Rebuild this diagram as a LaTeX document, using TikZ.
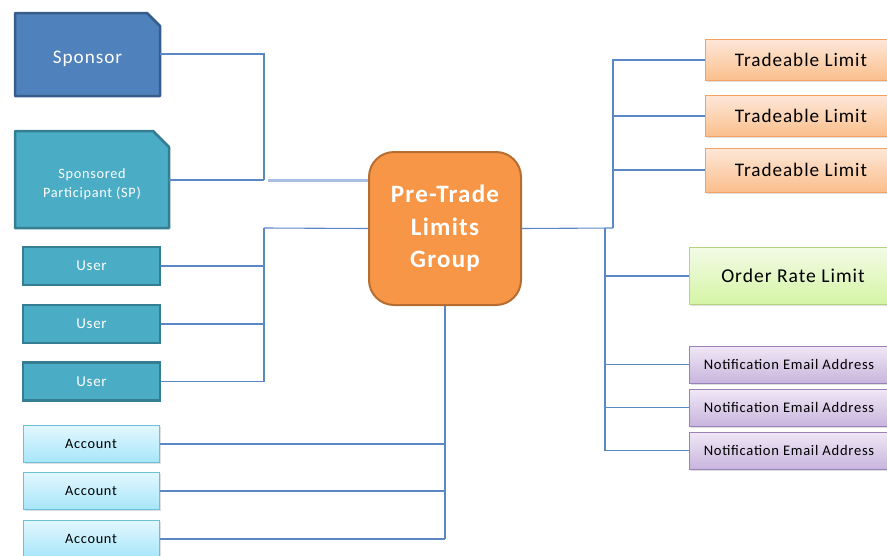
\documentclass[tikz,border=0pt]{standalone}
\usepackage{fontspec}
\setmainfont{Carlito}[LetterSpace=5]
\usetikzlibrary{shadows,calc}
\definecolor{sponfill}{HTML}{4F81BD}
\definecolor{sponline}{HTML}{385D8A}
\definecolor{spfill}{HTML}{4BACC6}
\definecolor{spline}{HTML}{357D91}
\definecolor{ctrfill}{HTML}{F79646}
\definecolor{ctrline}{HTML}{B66D31}
\definecolor{conn}{HTML}{5B87C5}
\definecolor{connlight}{HTML}{A7BFE0}
\definecolor{acctop}{HTML}{E2F7FE}
\definecolor{accbot}{HTML}{A6E6FA}
\definecolor{accline}{HTML}{6CC0DA}
\definecolor{trtop}{HTML}{FDE7D8}
\definecolor{trbot}{HTML}{FBBE8C}
\definecolor{trline}{HTML}{F5A162}
\definecolor{ortop}{HTML}{F3FBE6}
\definecolor{orbot}{HTML}{D5F4A5}
\definecolor{orline}{HTML}{B5D47E}
\definecolor{nttop}{HTML}{F0E8F6}
\definecolor{ntbot}{HTML}{C8B5DD}
\definecolor{ntline}{HTML}{9A82B8}
\tikzset{
  base/.style={inner sep=0pt, align=center},
  userbox/.style={base, rectangle, fill=spfill, draw=spline, line width=2.5pt,
    minimum width=137pt, minimum height=38pt, text=white, font=\fontsize{15}{17}\selectfont},
  accbox/.style={base, rectangle, draw=accline, line width=1pt, top color=acctop, bottom color=accbot,
    minimum width=136pt, minimum height=37pt, font=\fontsize{14.3}{17}\selectfont,
    drop shadow={shadow xshift=1.5pt, shadow yshift=-1.5pt, opacity=0.25}},
  trbox/.style={base, rectangle, draw=trline, line width=1pt, top color=trtop, bottom color=trbot,
    minimum width=192pt, minimum height=41pt, font=\fontsize{19.2}{22}\selectfont,
    drop shadow={shadow xshift=1.5pt, shadow yshift=-1.5pt, opacity=0.25}},
  orbox/.style={base, rectangle, draw=orline, line width=1pt, top color=ortop, bottom color=orbot,
    minimum width=208pt, minimum height=57pt, font=\fontsize{19.6}{22}\selectfont,
    drop shadow={shadow xshift=1.5pt, shadow yshift=-1.5pt, opacity=0.25}},
  ntbox/.style={base, rectangle, draw=ntline, line width=1pt, top color=nttop, bottom color=ntbot,
    minimum width=200pt, minimum height=37pt, font=\fontsize{14.6}{17}\selectfont,
    drop shadow={shadow xshift=1.5pt, shadow yshift=-1.5pt, opacity=0.25}},
  conline/.style={draw=conn, line width=1.1pt},
}
\begin{document}
\begin{tikzpicture}[x=1pt,y=-1pt]
\useasboundingbox (0,0) rectangle (887,555);
% Sponsor (snipped corner)
\filldraw[fill=sponfill, draw=sponline, line width=2.5pt, line join=round]
  (15,13) -- (147,13) -- (160,26) -- (160,96) -- (15,96) -- cycle;
\node[base, minimum width=145pt, minimum height=83pt, text=white, font=\fontsize{19.2}{22}\selectfont]
  (spon) at (87.5,59) {Sponsor};
% Sponsored participant
\filldraw[fill=spfill, draw=spline, line width=2.5pt, line join=round]
  (15,131) -- (153,131) -- (169,147) -- (169,228) -- (15,228) -- cycle;
\node[base, minimum width=154pt, minimum height=97pt, text=white, font=\fontsize{14.3}{19.5}\selectfont]
  (sp) at (92,184) {Sponsored\\Participant (SP)};
% Users
\node[userbox] (u1) at (91.5,266) {User};
\node[userbox] (u2) at (91.5,324) {User};
\node[userbox] (u3) at (91.5,381.5) {User};
% Accounts
\node[accbox] (a1) at (91,444) {Account};
\node[accbox] (a2) at (91,491) {Account};
\node[accbox] (a3) at (91,539) {Account};
% Right boxes
\node[trbox] (t1) at (801,60) {Tradeable Limit};
\node[trbox] (t2) at (801,116) {Tradeable Limit};
\node[trbox, minimum height=44pt] (t3) at (801,170) {Tradeable Limit};
\node[orbox] (or) at (793,276) {Order Rate Limit};
\node[ntbox] (n1) at (789,364.5) {Notification Email Address};
\node[ntbox] (n2) at (789,407.5) {Notification Email Address};
\node[ntbox] (n3) at (789,450.5) {Notification Email Address};
% Junctions
\coordinate (jS) at (264,180);
\coordinate (jS2) at (268,180);
\coordinate (cw1) at (369,180);
\coordinate (jU) at (264,228);
\coordinate (jA) at (445,539);
\coordinate (jC) at (445,300);
\coordinate (jT) at (613,228);
\coordinate (jR) at (605,228);
% Connectors
\draw[conline] (spon.east |- 0,54) -| (jS);
\draw[conline] (sp.east |- jS) -- (jS);
\draw[connlight, line width=3pt] (jS2) -- (cw1);
\draw[conline] (jU) |- (u3.east);
\draw[conline] (u1.east) -| (jU);
\draw[conline] (u2.east) -| (jU);
\draw[conline] (jT) |- (t1.west);
\draw[conline] (t2.west) -| (jT);
\draw[conline] (t3.west) -| (jT);
\draw[conline] (jR) |- (n3.west);
\draw[conline] (or.west) -| (jR);
\draw[conline] (n1.west) -| (jR);
\draw[conline] (n2.west) -| (jR);
\draw[conline] (jA) -- (jC);
\draw[conline] (a1.east) -| (jA);
\draw[conline] (a2.east) -| (jA);
\draw[conline] (a3.east) -- (jA);
% Center node
\node[base, rectangle, rounded corners=25pt, fill=ctrfill, draw=ctrline, line width=2pt,
  minimum width=152pt, minimum height=153pt, text=white,
  font=\bfseries\fontsize{25}{32.5}\selectfont] (ctr) at (445,228.5) {Pre-Trade\\Limits\\Group};
\draw[conline] (ctr.east) -- (jT);
\draw[conline] (ctr.west) -- (jU);
\end{tikzpicture}
\end{document}
